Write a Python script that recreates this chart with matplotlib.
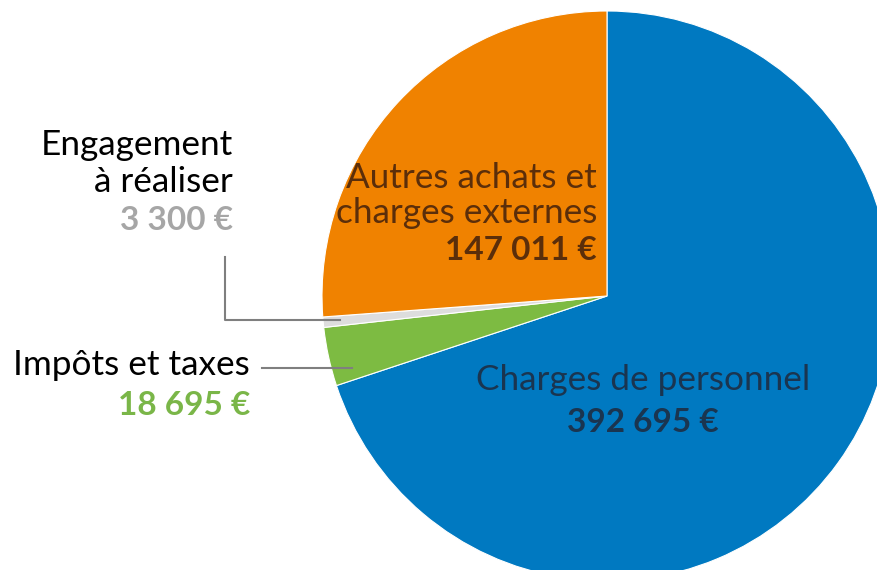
import matplotlib.pyplot as plt

labels = ["Charges de personnel", "Impôts et taxes", "Engagement à réaliser", "Autres achats et charges externes"]
values = [392695, 18695, 3300, 147011]
colors = ["#0079C1", "#7DBB42", "#DDDDDD", "#F08200"]
amounts = ["392 695 €", "18 695 €", "3 300 €", "147 011 €"]

plt.rcParams['font.family'] = ['Lato', 'DejaVu Sans']

W, H = 878, 570
fig = plt.figure(figsize=(W / 100, H / 100), dpi=100)
ax = fig.add_axes([0, 0, 1, 1])

cx, cy, r = 607, H - 296, 285
ax.pie(values, colors=colors, startangle=90, counterclock=False,
       center=(cx, cy), radius=r, frame=True,
       wedgeprops=dict(linewidth=0.8, edgecolor="white"))
ax.set_xlim(0, W)
ax.set_ylim(0, H)
ax.set_aspect("equal")
ax.axis("off")

def py(y):
    return H - y

fs = 25.3
fsb = 24

def label(x, ys, lines, color, amt, amt_color, ha):
    for y, t in zip(ys[:-1], lines):
        ax.text(x, py(y), t, ha=ha, va="baseline", fontsize=fs, color=color)
    ax.text(x, py(ys[-1]), amt, ha=ha, va="baseline", fontsize=fsb,
            color=amt_color, fontweight="bold")

# Charges de personnel
label(643, [390, 432], ["Charges de personnel"], "#1A3550", amounts[0], "#1A3550", "center")
# Autres achats
label(597, [188, 223, 260], ["Autres achats et", "charges externes"], "#5B2E0A",
      amounts[3], "#5B2E0A", "right")
# Engagement
label(233, [155, 192, 230], ["Engagement", "à réaliser"], "black", amounts[2], "#A6A6A6", "right")
ax.plot([225, 225, 340], [py(257), py(320), py(320)], color="#7F7F7F", lw=1.5)
# Impôts
label(250, [375, 415], [labels[1]], "black", amounts[1], "#7AB648", "right")
ax.plot([262, 352], [py(368), py(368)], color="#7F7F7F", lw=1.5)

fig.savefig("out.png", dpi=100)
